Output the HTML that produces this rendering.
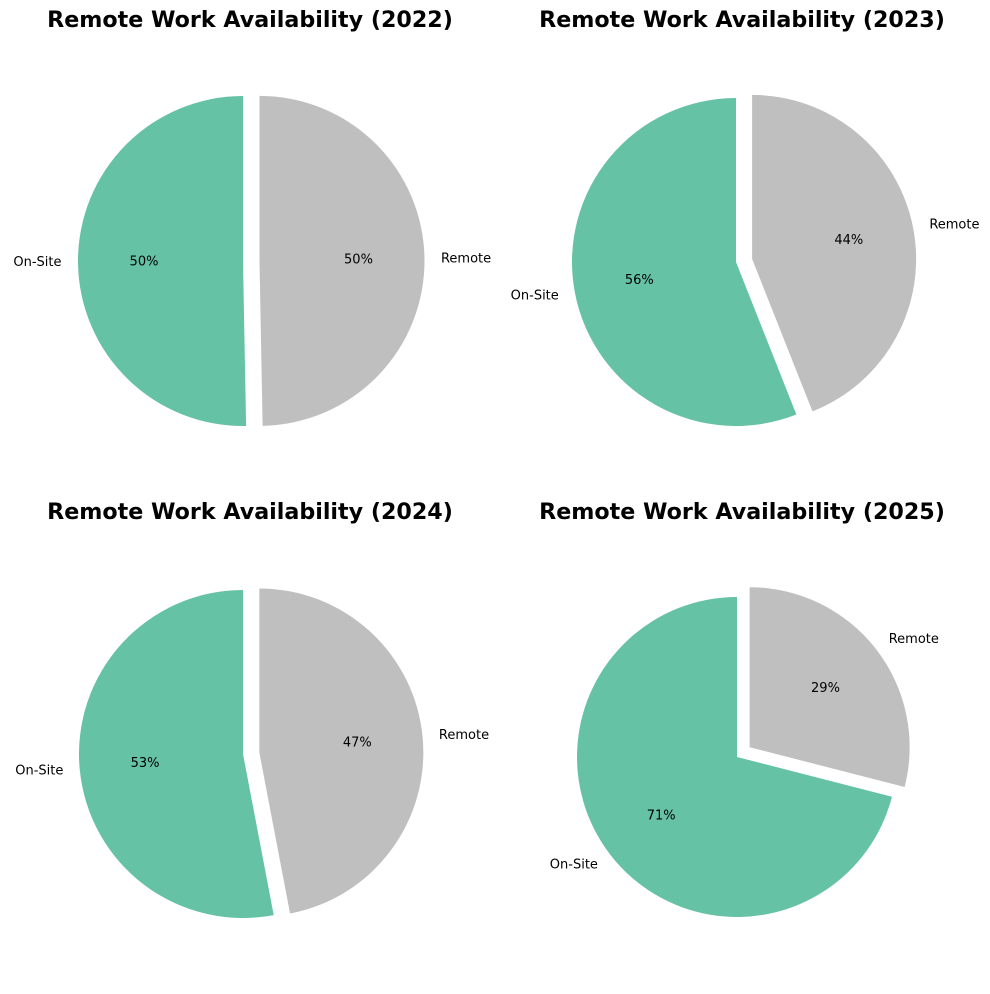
<!DOCTYPE html>
<html><head><meta charset="utf-8"><style>
body{margin:0;background:#fff}
svg text{font-family:"DejaVu Sans","Liberation Sans",sans-serif}
</style></head><body>
<svg id="fig" width="990" height="989" viewBox="0 0 990 989" xmlns="http://www.w3.org/2000/svg"></svg>
<script>
const years = ["2022","2023","2024","2025"];
const categories = ["On-Site","Remote"];
const onsiteValues = [50.3,56,53,71];
const remoteValues = [49.7,44,47,29];
const explodeFrac = [0,0.1];
const colors = ["#66c2a5","#bfbfbf"];
const panels = [
  {cx:243,cy:261,r:165,tx:250,ty:20},
  {cx:736,cy:262,r:164,tx:742,ty:20},
  {cx:243,cy:754,r:164,tx:250,ty:512},
  {cx:737,cy:757,r:160,tx:742,ty:512}
];
const NS="http://www.w3.org/2000/svg";
const svg=document.getElementById('fig');
function mk(tag,attrs){const e=document.createElementNS(NS,tag);for(const k in attrs)e.setAttribute(k,attrs[k]);return e;}
years.forEach((y,i)=>{
  const p=panels[i];
  const g=mk('g',{});
  
  
  svg.appendChild(g);
  const t=mk('text',{x:p.tx,y:p.ty,'text-anchor':'middle','dominant-baseline':'central','font-size':22.2,'font-weight':'bold'});
  
  
  t.textContent='Remote Work Availability ('+y+')';
  g.appendChild(t);
  const vals=[onsiteValues[i],remoteValues[i]];
  const tot=vals[0]+vals[1];
  let a0=90;
  vals.forEach((v,j)=>{
    const span=v/tot*360, a1=a0+span, mid=(a0+a1)/2*Math.PI/180;
    const ox=p.cx+explodeFrac[j]*p.r*Math.cos(mid), oy=p.cy-explodeFrac[j]*p.r*Math.sin(mid);
    const r0=a0*Math.PI/180, r1=a1*Math.PI/180;
    const x0=ox+p.r*Math.cos(r0), y0=oy-p.r*Math.sin(r0), x1=ox+p.r*Math.cos(r1), y1=oy-p.r*Math.sin(r1);
    const d=`M${ox},${oy} L${x0},${y0} A${p.r},${p.r} 0 ${span>180?1:0} 0 ${x1},${y1} Z`;
    const w=mk('path',{d:d,fill:colors[j]});
    
    
    g.appendChild(w);
    const lx=ox+1.1*p.r*Math.cos(mid), ly=oy-1.1*p.r*Math.sin(mid);
    const lt=mk('text',{x:lx,y:ly,'text-anchor':Math.cos(mid)<0?'end':'start','dominant-baseline':'central','font-size':13});
    
    
    lt.textContent=categories[j];
    g.appendChild(lt);
    const px=ox+0.6*p.r*Math.cos(mid), py=oy-0.6*p.r*Math.sin(mid);
    const pt=mk('text',{x:px,y:py,'text-anchor':'middle','dominant-baseline':'central','font-size':13});
    
    
    pt.textContent=Math.round(v/tot*100)+'%';
    g.appendChild(pt);
    a0=a1;
  });
});
</script>
</body></html>
